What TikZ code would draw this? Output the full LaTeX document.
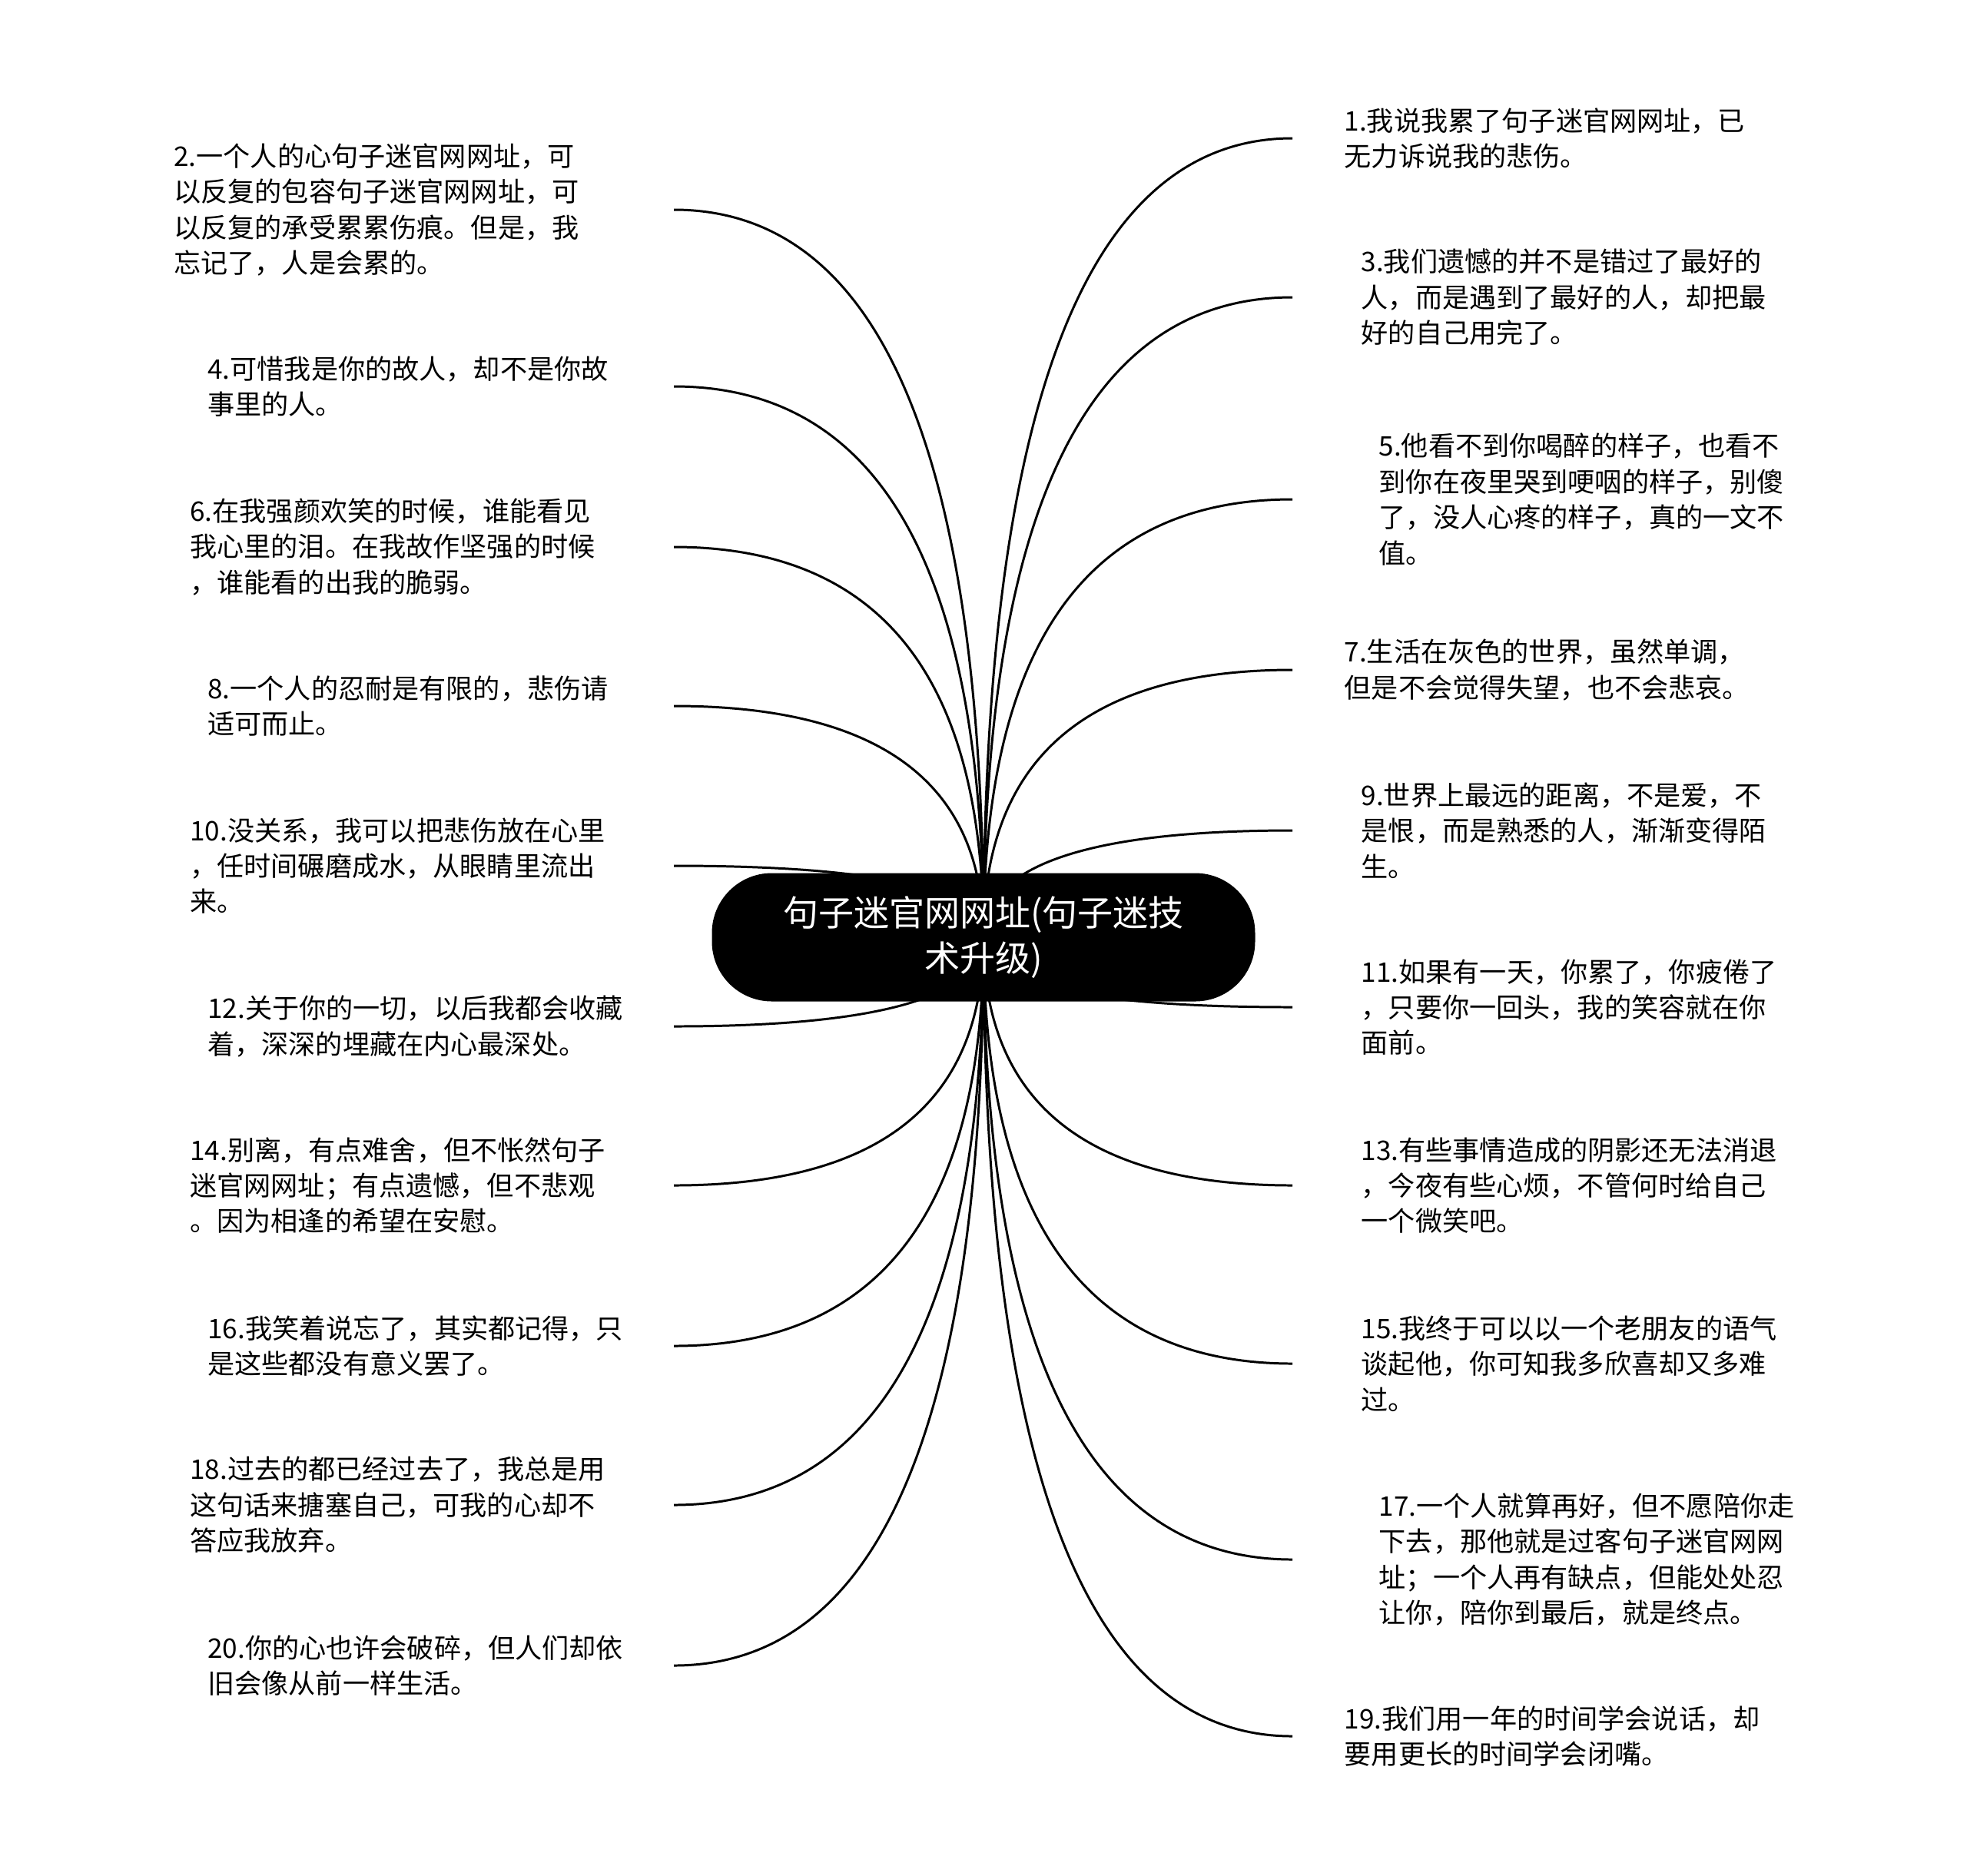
\documentclass[tikz,border=0pt]{standalone}
\usepackage{fontspec}
\setmainfont{Noto Sans CJK SC}
\usepackage{tikz}
\usetikzlibrary{positioning,calc,backgrounds}

\begin{document}
\begin{tikzpicture}[
  hub/.style={fill=black,text=white,rounded corners=0.78cm,minimum width=7.07cm,minimum height=1.67cm,align=center,inner sep=0pt,font=\fontsize{13.1pt}{17pt}\selectfont},
  quote/.style={align=left,inner sep=0pt,font=\fontsize{10pt}{13.2pt}\selectfont},
  lq/.style={quote,anchor=east,text width=#1},
  rq/.style={quote,anchor=west,text width=6.6cm,inner xsep=#1},
  link/.style={line width=0.85pt,to path={.. controls ($(\tikztostart)!2/3!(\tikztostart |- \tikztotarget)$) and ($(\tikztotarget)!2/3!(\tikztostart |- \tikztotarget)$) .. (\tikztotarget)}}]
\useasboundingbox (0,0) rectangle (25.60,-24.41);
\node[hub] (hub) at (12.80,-12.20) {句子迷官网网址(句子迷技\\术升级)};
% left column
\node[lq=6.50cm] (q2) at (8.77,-2.73) {2.一个人的心句子迷官网网址，可\\以反复的包容句子迷官网网址，可\\以反复的承受累累伤痕。但是，我\\忘记了，人是会累的。};
\node[lq=6.06cm] (q4) at (8.77,-5.03) {4.可惜我是你的故人，却不是你故\\事里的人。};
\node[lq=6.29cm] (q6) at (8.77,-7.12) {6.在我强颜欢笑的时候，谁能看见\\我心里的泪。在我故作坚强的时候\\，谁能看的出我的脆弱。};
\node[lq=6.06cm] (q8) at (8.77,-9.19) {8.一个人的忍耐是有限的，悲伤请\\适可而止。};
\node[lq=6.29cm] (q10) at (8.77,-11.27) {10.没关系，我可以把悲伤放在心里\\，任时间碾磨成水，从眼睛里流出\\来。};
\node[lq=6.06cm] (q12) at (8.77,-13.36) {12.关于你的一切，以后我都会收藏\\着，深深的埋藏在内心最深处。};
\node[lq=6.29cm] (q14) at (8.77,-15.43) {14.别离，有点难舍，但不怅然句子\\迷官网网址；有点遗憾，但不悲观\\。因为相逢的希望在安慰。};
\node[lq=6.06cm] (q16) at (8.77,-17.52) {16.我笑着说忘了，其实都记得，只\\是这些都没有意义罢了。};
\node[lq=6.29cm] (q18) at (8.77,-19.59) {18.过去的都已经过去了，我总是用\\这句话来搪塞自己，可我的心却不\\答应我放弃。};
\node[lq=6.06cm] (q20) at (8.77,-21.68) {20.你的心也许会破碎，但人们却依\\旧会像从前一样生活。};
% right column
\node[rq=0.67cm] (q1) at (16.82,-1.80) {1.我说我累了句子迷官网网址，已\\无力诉说我的悲伤。};
\node[rq=0.89cm] (q3) at (16.82,-3.87) {3.我们遗憾的并不是错过了最好的\\人，而是遇到了最好的人，却把最\\好的自己用完了。};
\node[rq=1.12cm] (q5) at (16.82,-6.50) {5.他看不到你喝醉的样子，也看不\\到你在夜里哭到哽咽的样子，别傻\\了，没人心疼的样子，真的一文不\\值。};
\node[rq=0.67cm] (q7) at (16.82,-8.72) {7.生活在灰色的世界，虽然单调，\\但是不会觉得失望，也不会悲哀。};
\node[rq=0.89cm] (q9) at (16.82,-10.81) {9.世界上最远的距离，不是爱，不\\是恨，而是熟悉的人，渐渐变得陌\\生。};
\node[rq=0.89cm] (q11) at (16.82,-13.11) {11.如果有一天，你累了，你疲倦了\\，只要你一回头，我的笑容就在你\\面前。};
\node[rq=0.89cm] (q13) at (16.82,-15.43) {13.有些事情造成的阴影还无法消退\\，今夜有些心烦，不管何时给自己\\一个微笑吧。};
\node[rq=0.89cm] (q15) at (16.82,-17.75) {15.我终于可以以一个老朋友的语气\\谈起他，你可知我多欣喜却又多难\\过。};
\node[rq=1.12cm] (q17) at (16.82,-20.30) {17.一个人就算再好，但不愿陪你走\\下去，那他就是过客句子迷官网网\\址；一个人再有缺点，但能处处忍\\让你，陪你到最后，就是终点。};
\node[rq=0.67cm] (q19) at (16.82,-22.60) {19.我们用一年的时间学会说话，却\\要用更长的时间学会闭嘴。};
\begin{scope}[on background layer]
\draw[link] (hub.center) to (q2.east); \draw[link] (hub.center) to (q4.east); \draw[link] (hub.center) to (q6.east);
\draw[link] (hub.center) to (q8.east); \draw[link] (hub.center) to (q10.east); \draw[link] (hub.center) to (q12.east);
\draw[link] (hub.center) to (q14.east); \draw[link] (hub.center) to (q16.east); \draw[link] (hub.center) to (q18.east);
\draw[link] (hub.center) to (q20.east);
\draw[link] (hub.center) to (q1.west); \draw[link] (hub.center) to (q3.west); \draw[link] (hub.center) to (q5.west);
\draw[link] (hub.center) to (q7.west); \draw[link] (hub.center) to (q9.west); \draw[link] (hub.center) to (q11.west);
\draw[link] (hub.center) to (q13.west); \draw[link] (hub.center) to (q15.west); \draw[link] (hub.center) to (q17.west);
\draw[link] (hub.center) to (q19.west);
\end{scope}
\end{tikzpicture}
\end{document}
